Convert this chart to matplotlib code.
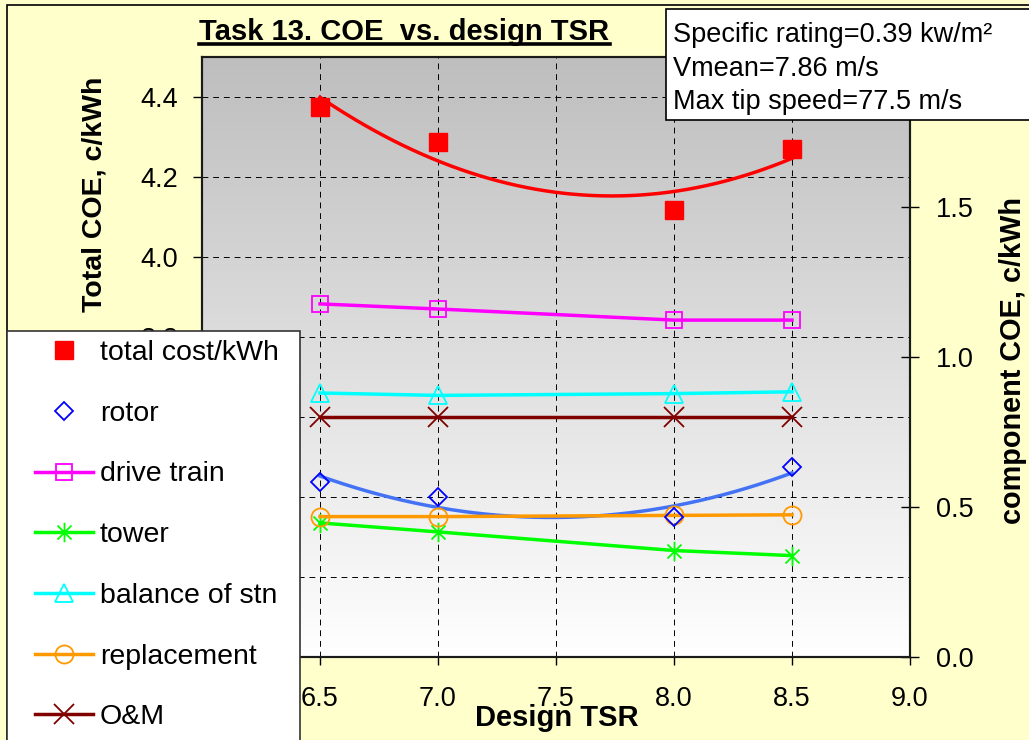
"""Task 13: COE vs. design TSR, total and component costs"""

import numpy as np
import matplotlib.pyplot as plt
from matplotlib.colors import LinearSegmentedColormap
from matplotlib.patches import Rectangle
from matplotlib.lines import Line2D
from matplotlib.path import Path

plt.rcParams['font.family'] = ['Liberation Sans', 'DejaVu Sans']

# data
tsr = [6.5, 7.0, 8.0, 8.5]
total = [4.376, 4.287, 4.117, 4.270]
rotor = [0.585, 0.535, 0.467, 0.632]
drive_train = [1.177, 1.160, 1.123, 1.123]
tower = [0.447, 0.417, 0.355, 0.338]
balance = [0.880, 0.872, 0.878, 0.884]
replacement = [0.468, 0.468, 0.472, 0.474]
om = [0.80, 0.80, 0.80, 0.80]

x_ticks = [6.0, 6.5, 7.0, 7.5, 8.0, 8.5, 9.0]
left_ticks = [3.0, 3.2, 3.4, 3.6, 3.8, 4.0, 4.2, 4.4]
right_ticks = [0.0, 0.5, 1.0, 1.5, 2.0]

info = ['Specific rating=0.39 kw/m\u00b2', 'Vmean=7.86 m/s', 'Max tip speed=77.5 m/s']

W, H = 1029, 740
FS = 19.5

asterisk = Path([(0, -1), (0, 1), (-0.72, -0.72), (0.72, 0.72), (-0.72, 0.72), (0.72, -0.72)],
                [Path.MOVETO, Path.LINETO] * 3)

fig = plt.figure(figsize=(W / 100, H / 100), dpi=100, facecolor='#FFFFCC')
ax = fig.add_axes([202 / W, 1 - 657 / H, (910 - 202) / W, (657 - 57) / H])
ax2 = ax.twinx()

# plot area gradient
grad = LinearSegmentedColormap.from_list('g', ['#BEBEBE', '#FFFFFF'])
ax.imshow(np.linspace(0, 1, 256)[:, None], extent=(6, 9, 3, 4.5), aspect='auto',
          cmap=grad, zorder=-2)

ax.set_xlim(6, 9)
ax.set_ylim(3, 4.5)
ax2.set_ylim(0, 2)
ax.set_xticks(x_ticks)
ax.set_xticklabels([f'{v:.1f}' for v in x_ticks])
ax.set_yticks(left_ticks)
ax.set_yticklabels([f'{v:.1f}' for v in left_ticks])
ax2.set_yticks(right_ticks)
ax2.set_yticklabels([f'{v:.1f}' for v in right_ticks])

ax.set_axisbelow(True)
ax.grid(True, color='black', linestyle=(0, (6, 5)), linewidth=0.7)

for a in (ax, ax2):
    for s in a.spines.values():
        s.set_linewidth(1.5)
        s.set_color('#1a1a1a')

ax.tick_params(axis='y', direction='out', length=6.5, width=1, pad=10.5, labelsize=FS)
ax.tick_params(axis='x', direction='out', length=6, width=1, pad=15, labelsize=FS)
ax2.tick_params(axis='y', direction='inout', length=13, width=1, pad=12, labelsize=FS)

# total cost with quadratic trendline
xs = np.linspace(tsr[0], tsr[-1], 200)
h_total, = ax.plot(tsr, total, 's', color='red', ms=12.5, mec='red', ls='none',
                   label='total cost/kWh')
ax.plot(xs, np.polyval(np.polyfit(tsr, total, 2), xs), color='red', lw=2.5)

# components
h_rotor, = ax2.plot(tsr, rotor, 'D', ms=9, mfc='none', mec='#0000FF', mew=1.3, ls='none',
                    label='rotor', zorder=4)
ax2.plot(xs, np.polyval(np.polyfit(tsr, rotor, 2), xs), color='#4372F5', lw=2.5)
h_drive, = ax2.plot(tsr, drive_train, color='#FF00FF', lw=2.5, marker='s', ms=12,
                    mfc='none', mew=1.3, label='drive train')
h_tower, = ax2.plot(tsr, tower, color='#00FF00', lw=2.5, marker=asterisk, ms=14,
                    mew=1.3, label='tower')
h_bal, = ax2.plot(tsr, balance, color='#00FFFF', lw=2.5, marker='^', ms=13,
                  mfc='none', mew=1.3, label='balance of stn')
h_rep, = ax2.plot(tsr, replacement, color='#FF9900', lw=2.5, marker='o', ms=13,
                  mfc='none', mew=1.3, label='replacement')
h_om, = ax2.plot(tsr, om, color='#800000', lw=2.5, marker='x', ms=14.5,
                 mew=1.3, label='O&M')

# axis labels
fig.text(95 / W, 1 - 194 / H, 'Total COE, c/kWh', rotation=90, ha='center', va='center',
         fontsize=20.5, fontweight='bold')
fig.text(1013 / W, 1 - 361 / H, 'component COE, c/kWh', rotation=90, ha='center',
         va='center', fontsize=20.8, fontweight='bold')
fig.text(557 / W, 1 - 726 / H, 'Design TSR', ha='center', va='baseline',
         fontsize=21, fontweight='bold')

# underlined title
title = fig.text(404.5 / W, 1 - 39.5 / H, 'Task 13. COE  vs. design TSR', ha='center',
                 va='baseline', fontsize=21, fontweight='bold')
fig.canvas.draw()
bb = title.get_window_extent().transformed(fig.transFigure.inverted())
fig.add_artist(Line2D([bb.x0, bb.x1], [1 - 44.3 / H] * 2, color='black', lw=2.6))

# info box
fig.add_artist(Rectangle((665.7 / W, 1 - 120 / H), 1, (120 - 9.3) / H, facecolor='white',
                         edgecolor='black', lw=1.2, zorder=4))
for line, base in zip(info, [41.7, 76, 109.3]):
    fig.text(672.7 / W, 1 - base / H, line, ha='left', va='baseline', fontsize=FS, zorder=5)

# legend box
fig.add_artist(Rectangle((7.3 / W, -0.5), (300 - 7.3) / W, 0.5 + 1 - 330.7 / H,
                         facecolor='white', edgecolor='#333333', lw=1.2, zorder=4))
fig.legend(handles=[h_total, h_rotor, h_drive, h_tower, h_bal, h_rep, h_om],
           loc='upper left', bbox_to_anchor=(35 / W, 1 - 340 / H), borderaxespad=0,
           borderpad=0, frameon=False, fontsize=20.5, labelspacing=1.22,
           handlelength=2.05, handletextpad=0.22)

# outer frame
fig.add_artist(Rectangle((7 / W, -0.5), 1.5, 1.5 - 5 / H, fill=False, edgecolor='black',
                         lw=1.2))

plt.savefig('out.png', dpi=100, facecolor=fig.get_facecolor())
